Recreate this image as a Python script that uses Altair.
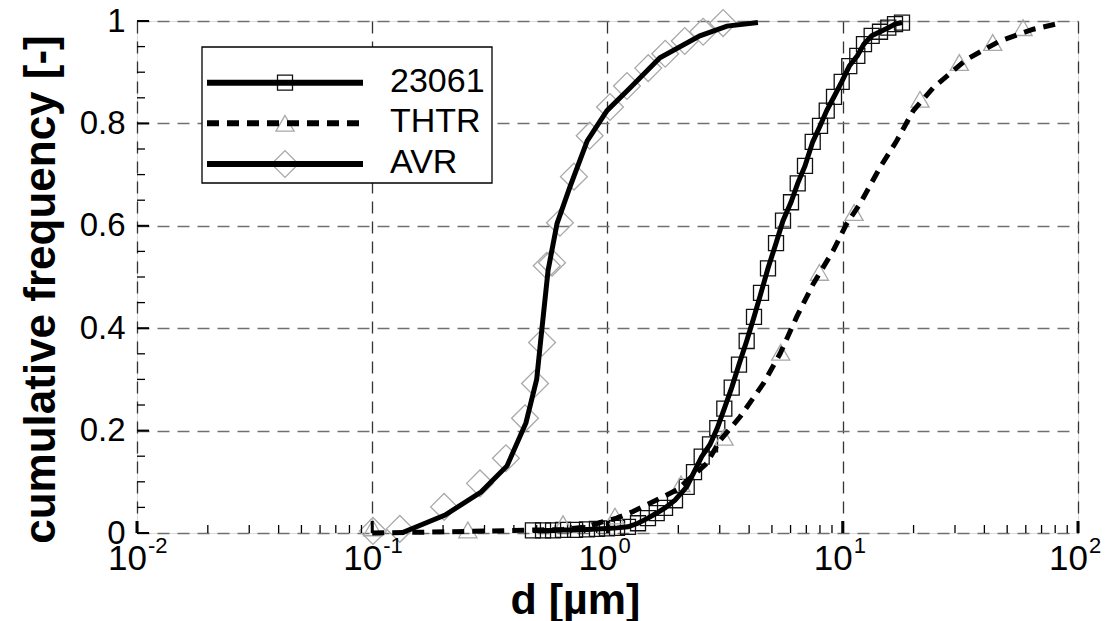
import altair as alt
import pandas as pd

# ---------------- data ----------------
# 23061 : squares, solid line
s23061_d = [0.482, 0.532, 0.587, 0.647, 0.728, 0.818, 0.902, 0.995, 1.098, 1.222,
            1.348, 1.486, 1.619, 1.756, 1.936, 2.171, 2.332, 2.514, 2.728, 2.929,
            3.137, 3.373, 3.622, 3.905, 4.195, 4.493, 4.811, 5.204, 5.572, 6.026,
            6.435, 6.910, 7.453, 8.006, 8.548, 9.180, 9.897, 10.66, 11.53, 12.31,
            13.27, 14.40, 15.62, 16.68, 17.86]
s23061_f = [0.005, 0.005, 0.005, 0.006, 0.006, 0.007, 0.008, 0.009, 0.010, 0.012,
            0.019, 0.029, 0.039, 0.049, 0.064, 0.090, 0.119, 0.149, 0.173, 0.205,
            0.243, 0.284, 0.329, 0.375, 0.422, 0.469, 0.517, 0.566, 0.610, 0.646,
            0.683, 0.717, 0.764, 0.795, 0.825, 0.852, 0.881, 0.912, 0.932, 0.955,
            0.971, 0.979, 0.987, 0.994, 0.997]

# THTR : triangles (markers) and dashed line
thtr_mark_d = [0.1004, 0.255, 0.647, 1.076, 2.053, 3.128, 5.449, 7.953, 11.17, 21.30, 31.30, 43.4, 58.4]
thtr_mark_f = [0.010, 0.006, 0.018, 0.033, 0.096, 0.187, 0.353, 0.509, 0.626, 0.847, 0.919, 0.958, 0.987]
thtr_line_d = [0.10, 0.25, 0.516, 0.647, 0.816, 0.957, 1.094, 1.284, 1.561, 1.969, 2.641, 3.01,
               3.66, 4.60, 5.41, 6.37, 7.50, 9.12, 10.39, 11.84, 14.4, 16.96, 19.95, 24.3,
               33.6, 46.6, 64.6, 82.5]
thtr_line_f = [0.0, 0.003, 0.006, 0.007, 0.012, 0.022, 0.029, 0.042, 0.061, 0.084, 0.136, 0.181,
               0.227, 0.292, 0.350, 0.422, 0.487, 0.552, 0.604, 0.643, 0.714, 0.766, 0.825, 0.870,
               0.925, 0.961, 0.984, 0.995]

# AVR : diamonds (markers) and solid line
avr_mark_d = [0.1007, 0.131, 0.202, 0.287, 0.370, 0.446, 0.492, 0.527, 0.552, 0.581, 0.628,
              0.72, 0.84, 1.025, 1.21, 1.49, 1.76, 2.13, 2.55, 3.10]
avr_mark_f = [0.004, 0.008, 0.051, 0.097, 0.146, 0.224, 0.292, 0.372, 0.522, 0.528, 0.606,
              0.696, 0.776, 0.832, 0.873, 0.908, 0.936, 0.961, 0.979, 0.996]
avr_line_d = [0.133, 0.204, 0.29, 0.374, 0.45, 0.50, 0.52, 0.559, 0.61, 0.69, 0.82, 0.995,
              1.246, 1.67, 2.47, 3.22, 4.36]
avr_line_f = [0.0, 0.035, 0.08, 0.131, 0.215, 0.30, 0.376, 0.513, 0.604, 0.674, 0.766, 0.825,
              0.869, 0.928, 0.971, 0.99, 0.997]

# axis ticks / labels
x_major = [0.01, 0.1, 1, 10, 100]
x_exponent = ["-2", "-1", "0", "1", "2"]
x_minor = [0.02, 0.03, 0.04, 0.05, 0.06, 0.07, 0.08, 0.09,
           0.2, 0.3, 0.4, 0.5, 0.6, 0.7, 0.8, 0.9,
           2, 3, 4, 5, 6, 7, 8, 9,
           20, 30, 40, 50, 60, 70, 80, 90]
y_major = [0, 0.2, 0.4, 0.6, 0.8, 1.0]
y_minor = [0.05, 0.1, 0.15, 0.25, 0.3, 0.35, 0.45, 0.5, 0.55, 0.65, 0.7, 0.75, 0.85, 0.9, 0.95]

legend_names = ["23061", "THTR", "AVR"]

FONT = "Liberation Sans"
W, H = 941, 512

xscale = alt.Scale(type="log", domain=[0.01, 100], nice=False)
yscale = alt.Scale(domain=[0, 1], nice=False, zero=False)

xenc = alt.X("d:Q", scale=xscale, axis=alt.Axis(
    values=x_major, labels=False, ticks=False, domain=False,
    grid=True, gridDash=[12, 8], gridColor="#333333", gridWidth=1.3,
    title="d [µm]", titleFont=FONT, titleFontSize=43, titleFontWeight="bold",
    titleColor="black", titleX=438, titleY=67, titleAlign="center", titleBaseline="middle"))
yenc = alt.Y("f:Q", scale=yscale, axis=alt.Axis(
    values=y_major, labelFont=FONT, labelFontSize=33, labelColor="black",
    labelExpr="datum.value == 0 ? '0' : (datum.value == 1 ? '1' : format(datum.value, '.1f'))",
    labelPadding=12, labelFlush=False, ticks=False, domain=False,
    grid=True, gridDash=[12, 8], gridColor="#707070", gridWidth=1.3,
    title="cumulative frequency [-]", titleFont=FONT, titleFontSize=44,
    titleFontWeight="bold", titleColor="black", titleAngle=270,
    titleX=-96, titleY=268, titleAlign="center", titleBaseline="middle"))

df_s = pd.DataFrame({"d": s23061_d, "f": s23061_f})
df_tm = pd.DataFrame({"d": thtr_mark_d, "f": thtr_mark_f})
df_tl = pd.DataFrame({"d": thtr_line_d, "f": thtr_line_f})
df_am = pd.DataFrame({"d": avr_mark_d, "f": avr_mark_f})
df_al = pd.DataFrame({"d": avr_line_d, "f": avr_line_f})

# markers
m_s = alt.Chart(df_s).mark_point(shape="square", size=225, filled=False, stroke="#111",
                                 strokeWidth=1.3, opacity=1).encode(x=xenc, y=yenc)
m_t = alt.Chart(df_tm).mark_point(shape="triangle-up", size=330, filled=False, stroke="#a8a8a8",
                                  strokeWidth=1.3, opacity=1).encode(x=xenc, y=yenc)
m_a = alt.Chart(df_am).mark_point(shape="diamond", size=720, filled=False, stroke="#a8a8a8",
                                  strokeWidth=1.3, opacity=1).encode(x=xenc, y=yenc)
# lines
l_s = alt.Chart(df_s).mark_line(color="black", strokeWidth=5).encode(x=xenc, y=yenc)
l_t = alt.Chart(df_tl).mark_line(color="black", strokeWidth=5, strokeDash=[12, 8]).encode(x=xenc, y=yenc)
l_a = alt.Chart(df_al).mark_line(color="black", strokeWidth=5).encode(x=xenc, y=yenc)

# inward ticks
df_xmin = pd.DataFrame({"d": x_minor})
df_xmaj = pd.DataFrame({"d": x_major})
df_ymin = pd.DataFrame({"f": y_minor})
df_ymaj = pd.DataFrame({"f": y_major})
t_xmin = alt.Chart(df_xmin).mark_rule(color="black", strokeWidth=1.3).encode(
    x=xenc, y=alt.value(H), y2=alt.value(H - 8))
t_xmaj = alt.Chart(df_xmaj).mark_rule(color="black", strokeWidth=3).encode(
    x=xenc, y=alt.value(H), y2=alt.value(H - 12))
t_ymin = alt.Chart(df_ymin).mark_rule(color="black", strokeWidth=1.3).encode(
    y=yenc, x=alt.value(0), x2=alt.value(8))
t_ymaj = alt.Chart(df_ymaj).mark_rule(color="black", strokeWidth=2).encode(
    y=yenc, x=alt.value(0), x2=alt.value(12))

# x tick labels: "10" with superscript exponent
df_xl = pd.DataFrame({"d": x_major, "exp": x_exponent, "base": ["10"] * len(x_major)})
lab_base = alt.Chart(df_xl).mark_text(align="right", baseline="alphabetic", dx=10,
                                      font=FONT, fontSize=35, color="black").encode(
    x=xenc, y=alt.value(H + 37), text="base:N")
lab_exp = alt.Chart(df_xl).mark_text(align="left", baseline="alphabetic", dx=11,
                                     font=FONT, fontSize=22, color="black").encode(
    x=xenc, y=alt.value(H + 20), text="exp:N")

# legend (manual box)
one = pd.DataFrame({"k": [0]})
leg_box = alt.Chart(one).mark_rect(fill="white", stroke="black", strokeWidth=1.3).encode(
    x=alt.value(65), x2=alt.value(355), y=alt.value(26), y2=alt.value(162))
leg_layers = [leg_box]
rows_y = [61.7, 102.3, 143]
shapes = [("square", 225, "#111"), ("triangle-up", 330, "#a8a8a8"), ("diamond", 720, "#a8a8a8")]
dashes = [None, [12, 8], None]
for name, ry, (shp, sz, col), dash in zip(legend_names, rows_y, shapes, dashes):
    dfn = pd.DataFrame({"name": [name]})
    leg_layers.append(alt.Chart(dfn).mark_point(shape=shp, size=sz, filled=False, stroke=col,
                                                strokeWidth=1.3, opacity=1).encode(
        x=alt.value(148), y=alt.value(ry)))
    rule_kw = dict(color="black", strokeWidth=6)
    if dash:
        rule_kw["strokeDash"] = dash
    leg_layers.append(alt.Chart(dfn).mark_rule(**rule_kw).encode(
        x=alt.value(70), x2=alt.value(226), y=alt.value(ry)))
    leg_layers.append(alt.Chart(dfn).mark_text(align="left", baseline="middle", font=FONT,
                                               fontSize=34, color="black").encode(
        x=alt.value(253), y=alt.value(ry - 1), text="name:N"))

chart = alt.layer(
    m_s, m_t, m_a, l_s, l_t, l_a, t_xmin, t_xmaj, t_ymin, t_ymaj, lab_base, lab_exp,
    *leg_layers
).properties(
    width=W, height=H,
    autosize=alt.AutoSizeParams(type="none"),
    padding={"left": 137, "top": 21, "right": 37, "bottom": 88},
).configure_view(stroke="black", strokeWidth=3).configure(background="white")

chart.save("out.html", embed_options={"renderer": "svg", "actions": False})
